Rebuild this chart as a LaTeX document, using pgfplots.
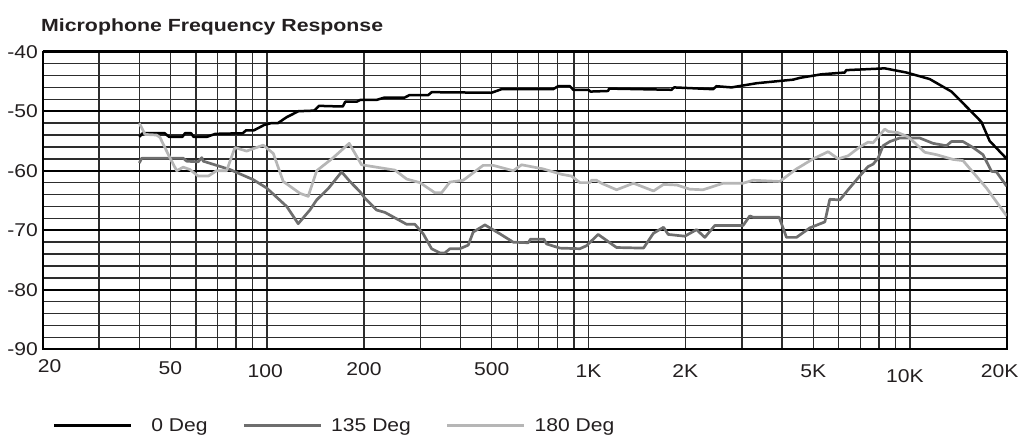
\documentclass[border=0pt]{standalone}
\usepackage{fontspec}
\setmainfont{Liberation Sans}
\usepackage{graphicx}
\usepackage{pgfplots}
\pgfplotsset{compat=1.18}

\definecolor{deg135}{RGB}{110,110,110}
\definecolor{deg180}{RGB}{182,182,182}
\definecolor{gridc}{RGB}{45,45,45}
\definecolor{ink}{RGB}{35,31,32}

% the scanned original is stretched sideways a little
\newcommand{\sx}[1]{\scalebox{1.14}[1]{#1}}
\newcommand{\up}[2]{\raisebox{#1}[\height][\depth]{#2}}

\begin{document}
\begin{tikzpicture}
\begin{axis}[
    at={(0pt,0pt)}, anchor=south west,
    scale only axis,
    width=964.2pt, height=297.6pt,
    xmode=log,
    xmin=20, xmax=20000,
    ymin=-90, ymax=-40,
    xtick={20,30,40,50,60,70,80,90,100,200,300,400,500,600,700,800,900,
           1000,2000,3000,4000,5000,6000,7000,8000,9000,10000,20000},
    xticklabels={
        \up{3pt}{\hspace*{14pt}\sx{20}},{},{},\up{1pt}{\sx{50}},{},{},{},{},
        \up{-2pt}{\sx{100}\hspace*{4pt}},\sx{200},{},{},\sx{500},{},{},{},{},
        \up{-2pt}{\sx{1K}},\up{-2pt}{\sx{2K}},{},{},\up{-2pt}{\sx{5K}},{},{},{},{},
        \up{-7pt}{\sx{10K}\hspace*{10pt}},\up{-2pt}{\sx{20K}\hspace*{14pt}}},
    ytick={-90,-80,-70,-60,-50,-40},
    yticklabels={\sx{-90},\sx{-80},\sx{-70},\sx{-60},\sx{-50},\sx{-40}},
    minor ytick={-88,-86,-84,-82,-78,-76,-74,-72,-68,-66,-64,-62,
                 -58,-56,-54,-52,-48,-46,-44,-42},
    major tick length=0pt, minor tick length=0pt,
    xmajorgrids=true, xminorgrids=false,
    ymajorgrids=true, yminorgrids=true,
    major x grid style={line width=1.35pt, gridc},
    major y grid style={line width=2.4pt, black},
    minor y grid style={line width=1.35pt, gridc},
    axis line style={line width=2pt, black},
    tick label style={font=\fontsize{18.5}{20}\selectfont, text=ink, inner sep=0pt},
    xticklabel style={yshift=-13pt},
    yticklabel style={xshift=-4.5pt},
    title={\scalebox{1.21}[1]{Microphone Frequency Response}},
    title style={at={(0,1)}, anchor=base west, inner sep=0pt,
        xshift=-1.5pt, yshift=14.5pt, text=ink,
        font=\bfseries\fontsize{17.6}{20}\selectfont},
    legend columns=3,
    legend cell align=left,
    legend style={at={(0,0)}, anchor=north west, xshift=10.25pt, yshift=-69pt,
        draw=none, fill=none, inner sep=0pt, outer sep=0pt, text=ink,
        font=\fontsize{18.5}{20}\selectfont, nodes={inner sep=0pt},
        /tikz/every odd column/.append style={column sep=9pt},
        /tikz/every even column/.append style={column sep=35pt}},
    legend image code/.code={\draw[#1] (0pt,0pt) -- (77pt,0pt);},
    every axis plot/.append style={line join=round, mark=none},
]

\addplot[black, line width=2.5pt] coordinates {
 (40,-54.3) (41,-53.7) (48,-53.7) (49.5,-54.3) (54.5,-54.3) (55.5,-53.7)
 (58,-53.7) (59,-54.3) (65,-54.3) (69,-53.8) (84,-53.7) (86,-53.2)
 (91,-53.2) (98,-52.3) (103,-52) (108,-52) (115,-51) (120,-50.5)
 (125,-50) (140,-49.9) (145,-49.1) (168,-49.2) (172,-49.2) (175,-48.4)
 (190,-48.4) (195,-48.1) (219,-48.1) (232,-47.7) (268,-47.7) (277,-47.3)
 (317,-47.3) (325,-46.8) (499,-46.9) (536,-46.3) (776,-46.3) (804,-45.8)
 (875,-45.8) (896,-46.4) (997,-46.4) (1014,-46.7) (1150,-46.6) (1159,-46.2)
 (1812,-46.4) (1846,-46.0) (2440,-46.3) (2500,-45.8) (2785,-46.0) (3330,-45.3)
 (4328,-44.7) (4541,-44.4) (5300,-43.8) (6266,-43.5) (6335,-43.1) (8350,-42.8)
 (9750,-43.5) (11520,-44.6) (13460,-46.7) (15345,-49.8) (16680,-51.8)
 (17700,-55) (20000,-58)
};
\addlegendentry{\hspace*{10pt}\sx{0 Deg}}

\addplot[deg135, line width=2.7pt] coordinates {
 (40,-58.7) (40.7,-57.9) (54.8,-57.9) (56.2,-58.4) (61,-58.5) (62.6,-57.8)
 (63.3,-58.4) (76.6,-59.8) (90.5,-61.5) (99.6,-62.9) (115,-66) (124.9,-68.9)
 (135.8,-66.6) (142.6,-64.9) (154.9,-63) (170.5,-60.2) (180.9,-61.8)
 (194.3,-63.5) (201.4,-64.6) (219,-66.6) (232.5,-67) (271.7,-69) (288.1,-69)
 (305.9,-70.6) (324.8,-73.1) (344.6,-73.8) (357.3,-73.8) (370.4,-73.1)
 (397.8,-73.1) (422.3,-72.5) (437.6,-70.3) (475.9,-69.1) (529.9,-70.6)
 (582.8,-72) (648.8,-72.1) (660,-71.5) (726.2,-71.5) (740.2,-72.3)
 (814.3,-73) (939.6,-73.1) (985.4,-72.6) (1071,-70.7) (1222,-72.9)
 (1482,-73) (1592,-70.5) (1711,-69.5) (1769,-70.7) (1993,-71) (2167,-69.9)
 (2300,-71.2) (2471,-69.2) (3025,-69.2) (3174,-67.6) (3250,-67.8)
 (3916,-67.8) (4129,-71.2) (4433,-71.2) (4880,-69.6) (5434,-68.6)
 (5630,-64.8) (6052,-64.9) (6419,-63.2) (6898,-61.2) (7408,-59.3)
 (7679,-58.9) (7958,-57.9) (8248,-55.8) (8655,-55.1) (9293,-54.5)
 (10723,-54.5) (11797,-55.4) (12985,-55.8) (13460,-55.1) (14623,-55.1)
 (15715,-56.1) (16879,-57.3) (17931,-60.1) (18586,-60.2) (20000,-62.6)
};
\addlegendentry{\sx{135 Deg}}

\addplot[deg180, line width=2.7pt] coordinates {
 (40,-52) (41.7,-53.9) (45.3,-54) (46.4,-54.4) (49.8,-57.8) (52.3,-60)
 (54.8,-59.4) (57.5,-59.8) (61,-60.9) (65.6,-60.9) (69.6,-60) (74.8,-60)
 (79.4,-56.1) (86.3,-56.7) (97.2,-55.7) (104.5,-57.1) (112.2,-61.8)
 (126.5,-63.8) (134.2,-64.3) (142.6,-60) (160.6,-57.8) (180,-55.4)
 (196.7,-59.0) (249.8,-59.9) (271.7,-61.4) (298.8,-62) (332.6,-63.7)
 (348.9,-63.7) (370.4,-61.9) (407.4,-61.6) (469.9,-59.1) (504.9,-59.1)
 (582.8,-60) (619,-59) (722.6,-59.7) (824.1,-60.6) (885.3,-60.9)
 (939.6,-62) (1009,-62) (1022,-61.6) (1058,-61.6) (1097,-62.1) (1222,-63.2)
 (1380,-62.1) (1592,-63.4) (1711,-62.3) (1882,-62.4) (2065,-63.1)
 (2271,-63.2) (2622,-62.1) (3025,-62.1) (3250,-61.6) (3936,-61.8)
 (4433,-59.7) (4999,-58) (5565,-56.8) (5977,-58) (6419,-57.5) (6981,-56)
 (7408,-55.2) (7679,-55.3) (8350,-53) (8551,-53.4) (9180,-53.6)
 (9862,-54.3) (10346,-55.3) (11114,-56.9) (12085,-57.3) (13614,-58.1)
 (14623,-58.3) (17297,-62.9) (20000,-67.6)
};
\addlegendentry{\sx{180 Deg}}
\end{axis}
\pgfresetboundingbox
\path[use as bounding box] (-42.5pt,-85.7pt) rectangle (977.5pt,349.3pt);
\end{tikzpicture}
\end{document}
